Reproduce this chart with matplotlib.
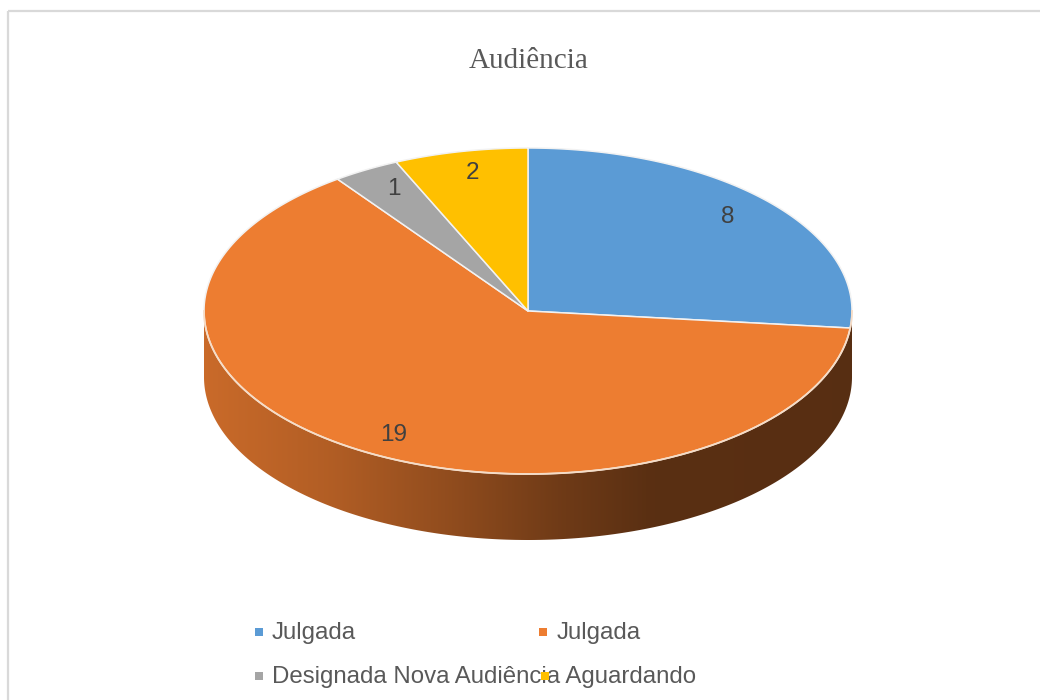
import numpy as np
import matplotlib
matplotlib.use("Agg")
import matplotlib.pyplot as plt
from matplotlib.patches import Polygon, Rectangle

# ---- data ----
title = "Audiência"
categories = ["Julgada", "Julgada", "Designada Nova Audiência", "Aguardando"]
values = [8, 19, 1, 2]
colors = ["#5B9BD5", "#ED7D31", "#A5A5A5", "#FFC000"]

W, H = 1040, 700
fig = plt.figure(figsize=(W / 100, H / 100), dpi=100)
ax = fig.add_axes([0, 0, 1, 1])
ax.set_xlim(0, W)
ax.set_ylim(H, 0)
ax.axis("off")

# chart border (top and left visible)
ax.plot([8, W + 5], [11, 11], color="#d9d9d9", lw=1.6, solid_capstyle="butt")
ax.plot([8, 8], [11, H + 5], color="#d9d9d9", lw=1.6, solid_capstyle="butt")

ax.text(529, 61, title, ha="center", va="center", fontsize=21,
        family="Liberation Serif", color="#595959")

cx, cy, rx, ry, depth = 528, 311, 324, 163, 66


def pt(th_deg, dy=0.0):
    t = np.radians(th_deg)
    return cx + rx * np.cos(t), cy - ry * np.sin(t) + dy


total = float(sum(values))
starts, ends = [], []
a = 90.0
for v in values:
    starts.append(a)
    a -= 360.0 * v / total
    ends.append(a)

# side of the pie (front half, covered by the large slice) with a gradient
th = np.linspace(180, 360, 400)
xt, yt = pt(th)
xb, yb = pt(th[::-1], depth)
side_verts = list(zip(xt, yt)) + list(zip(xb, yb))
side = Polygon(side_verts, closed=True, facecolor="none", edgecolor="none")
ax.add_patch(side)

gx = np.array([205, 330, 450, 560, 650, 860])
gf = np.array([0.85, 0.75, 0.61, 0.47, 0.38, 0.37])
xs_img = np.linspace(cx - rx, cx + rx, 700)
base = np.array(matplotlib.colors.to_rgb(colors[1]))
grad = np.clip(np.interp(xs_img, gx, gf)[:, None] * base[None, :], 0, 1)
img = np.repeat(grad[None, :, :], 2, axis=0)
im = ax.imshow(img, extent=[cx - rx, cx + rx, cy + ry + depth + 2, cy - 5],
               aspect="auto", interpolation="bilinear", zorder=1)
im.set_clip_path(side)
ax.set_xlim(0, W)
ax.set_ylim(H, 0)

# top surface wedges
for i, (s, e) in enumerate(zip(starts, ends)):
    tt = np.linspace(s, e, 200)
    xs, ys = pt(tt)
    verts = [(cx, cy)] + list(zip(xs, ys))
    ax.add_patch(Polygon(verts, closed=True, facecolor=colors[i],
                         edgecolor="#f2f2f2", lw=1.1, joinstyle="round", zorder=2))

# light rim along front edge
ax.plot(xt, yt, color="#f6dcc6", lw=1.3, zorder=3)

# data labels
for i, (s, e) in enumerate(zip(starts, ends)):
    m = np.radians(0.5 * (s + e))
    lx = cx + rx * 0.83 * np.cos(m)
    ly = cy - ry * 0.87 * np.sin(m) + 1
    ax.text(lx, ly, str(values[i]), ha="center", va="center", fontsize=17.5,
            family="Liberation Sans", color="#404040", zorder=4)

# legend (drawn manually to match layout)
leg_pos = [(259, 632), (543, 632), (259, 676), (545, 676)]
for i, (mx, my) in enumerate(leg_pos):
    ax.add_patch(Rectangle((mx - 4, my - 4), 8, 8, facecolor=colors[i],
                           edgecolor="none", zorder=5))
fs = 17.3
ax.text(272, 633, categories[0], ha="left", va="center", fontsize=fs,
        family="Liberation Sans", color="#595959", zorder=1)
ax.text(557, 633, categories[1], ha="left", va="center", fontsize=fs,
        family="Liberation Sans", color="#595959", zorder=1)
ax.text(272, 677, categories[2] + " " + categories[3], ha="left", va="center",
        fontsize=fs, family="Liberation Sans", color="#595959", zorder=1)

fig.savefig("out.png", dpi=100)
